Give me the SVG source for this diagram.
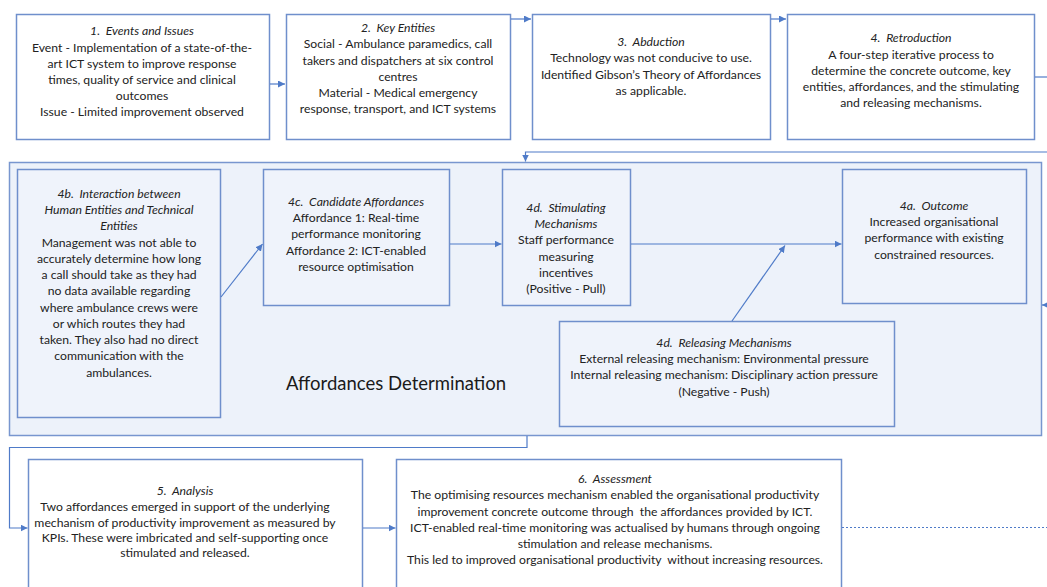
<svg xmlns="http://www.w3.org/2000/svg" width="1047" height="587" viewBox="0 0 1047 587">
<defs>
<style>
.bx{fill:#ffffff;stroke:#6f8fcc;stroke-width:1.5}
.ib{fill:#eff3fb;stroke:#6f8fcc;stroke-width:1.5}
.ct{fill:#edf2fa;stroke:#7896cf;stroke-width:1.5}
.t{font-family:Lato,"Liberation Sans",sans-serif;font-size:12.2px;fill:#222222;text-anchor:middle;white-space:pre}
.i{font-style:italic}
.big{font-family:Lato,"Liberation Sans",sans-serif;font-size:18.5px;fill:#1a1a1a}
.c{fill:none;stroke:#4f7bc8;stroke-width:1.2}
.d{fill:none;stroke:#4f7bc8;stroke-width:1.2;stroke-dasharray:2 2}
</style>
<marker id="ah" viewBox="0 0 10 10" refX="10" refY="5" markerWidth="7" markerHeight="7" markerUnits="userSpaceOnUse" orient="auto">
<path d="M0,0 L10,5 L0,10 z" fill="#4f7bc8"/>
</marker>
</defs>
<rect width="1047" height="587" fill="#ffffff"/>

<g id="container">
<rect class="ct" x="9.5" y="162.5" width="1032" height="273"/>
<text class="big" x="286" y="390">Affordances Determination</text>
</g>

<g id="n1">
<rect class="bx" x="16.5" y="14.5" width="253" height="125"/>
<text class="t i" x="142" y="35">1.  Events and Issues</text>
<text class="t" x="142" y="51.5">Event - Implementation of a state-of-the-</text>
<text class="t" x="142" y="68">art ICT system to improve response</text>
<text class="t" x="142" y="84">times, quality of service and clinical</text>
<text class="t" x="142" y="100">outcomes</text>
<text class="t" x="142" y="116">Issue - Limited improvement observed</text>
</g>

<g id="n2">
<rect class="bx" x="286.5" y="14.5" width="224" height="125"/>
<text class="t i" x="398" y="31.5">2.  Key Entities</text>
<text class="t" x="398" y="48">Social - Ambulance paramedics, call</text>
<text class="t" x="398" y="64.5">takers and dispatchers at six control</text>
<text class="t" x="398" y="80.5">centres</text>
<text class="t" x="398" y="97">Material - Medical emergency</text>
<text class="t" x="398" y="113">response, transport, and ICT systems</text>
</g>

<g id="n3">
<rect class="bx" x="532.5" y="14.5" width="238" height="125"/>
<text class="t i" x="651" y="46">3.  Abduction</text>
<text class="t" x="651" y="62">Technology was not conducive to use.</text>
<text class="t" x="651" y="78.5">Identified Gibson’s Theory of Affordances</text>
<text class="t" x="651" y="94.5">as applicable.</text>
</g>

<g id="n4">
<rect class="bx" x="787.5" y="14.5" width="247" height="125"/>
<text class="t i" x="911" y="42">4.  Retroduction</text>
<text class="t" x="911" y="58.5">A four-step iterative process to</text>
<text class="t" x="911" y="75">determine the concrete outcome, key</text>
<text class="t" x="911" y="91">entities, affordances, and the stimulating</text>
<text class="t" x="911" y="107">and releasing mechanisms.</text>
</g>

<g id="n4b">
<rect class="ib" x="17.5" y="169.5" width="203" height="248"/>
<text class="t i" x="119" y="197.5">4b.  Interaction between</text>
<text class="t i" x="119" y="214">Human Entities and Technical</text>
<text class="t i" x="119" y="230">Entities</text>
<text class="t" x="119" y="246.5">Management was not able to</text>
<text class="t" x="119" y="262.5">accurately determine how long</text>
<text class="t" x="119" y="279">a call should take as they had</text>
<text class="t" x="119" y="295">no data available regarding</text>
<text class="t" x="119" y="311.5">where ambulance crews were</text>
<text class="t" x="119" y="327.5">or which routes they had</text>
<text class="t" x="119" y="344">taken. They also had no direct</text>
<text class="t" x="119" y="360">communication with the</text>
<text class="t" x="119" y="376.5">ambulances.</text>
</g>

<g id="n4c">
<rect class="ib" x="263.5" y="169.5" width="186" height="136"/>
<text class="t i" x="356" y="205.5">4c.  Candidate Affordances</text>
<text class="t" x="356" y="222">Affordance 1: Real-time</text>
<text class="t" x="356" y="238">performance monitoring</text>
<text class="t" x="356" y="254.5">Affordance 2: ICT-enabled</text>
<text class="t" x="356" y="270.5">resource optimisation</text>
</g>

<g id="n4d-stim">
<rect class="ib" x="502.5" y="169.5" width="128" height="136"/>
<text class="t i" x="566" y="211.5">4d.  Stimulating</text>
<text class="t i" x="566" y="228">Mechanisms</text>
<text class="t" x="566" y="244">Staff performance</text>
<text class="t" x="566" y="261">measuring</text>
<text class="t" x="566" y="276.5">incentives</text>
<text class="t" x="566" y="293">(Positive - Pull)</text>
</g>

<g id="n4a">
<rect class="ib" x="842.5" y="169.5" width="184" height="134"/>
<text class="t i" x="934" y="209.5">4a.  Outcome</text>
<text class="t" x="934" y="226">Increased organisational</text>
<text class="t" x="934" y="242">performance with existing</text>
<text class="t" x="934" y="258.5">constrained resources.</text>
</g>

<g id="n4d-rel">
<rect class="ib" x="559.5" y="321.5" width="335" height="105"/>
<text class="t i" x="724" y="346.5">4d.  Releasing Mechanisms</text>
<text class="t" x="724" y="363">External releasing mechanism: Environmental pressure</text>
<text class="t" x="724" y="379">Internal releasing mechanism: Disciplinary action pressure</text>
<text class="t" x="724" y="395.5">(Negative - Push)</text>
</g>

<g id="n5">
<rect class="bx" x="28.5" y="459.5" width="334" height="135"/>
<text class="t i" x="185" y="494.5">5.  Analysis</text>
<text class="t" x="185" y="510.5">Two affordances emerged in support of the underlying</text>
<text class="t" x="185" y="526.5">mechanism of productivity improvement as measured by</text>
<text class="t" x="185" y="541.5">KPIs. These were imbricated and self-supporting once</text>
<text class="t" x="185" y="557">stimulated and released.</text>
</g>

<g id="n6">
<rect class="bx" x="396.5" y="459.5" width="445" height="135"/>
<text class="t i" x="615" y="482.5">6.  Assessment</text>
<text class="t" x="615" y="499">The optimising resources mechanism enabled the organisational productivity</text>
<text class="t" x="615" y="515.5">improvement concrete outcome through  the affordances provided by ICT.</text>
<text class="t" x="615" y="531.5">ICT-enabled real-time monitoring was actualised by humans through ongoing</text>
<text class="t" x="615" y="547.5">stimulation and release mechanisms.</text>
<text class="t" x="615" y="563.5">This led to improved organisational productivity  without increasing resources.</text>
</g>

<g id="connectors">
<path class="c" d="M270,84 H285" marker-end="url(#ah)"/>
<path class="c" d="M511,19 H531" marker-end="url(#ah)"/>
<path class="c" d="M771,19 H786" marker-end="url(#ah)"/>
<path class="c" d="M1035,77 H1047"/>
<path class="c" d="M1047,152 H525.5 V161.5" marker-end="url(#ah)"/>
<path class="c" d="M221,297 L262.5,244" marker-end="url(#ah)"/>
<path class="c" d="M450,244 H501.5" marker-end="url(#ah)"/>
<path class="c" d="M631,244 H841.5" marker-end="url(#ah)"/>
<path class="c" d="M732,321 L785,245.5" marker-end="url(#ah)"/>
<path class="c" d="M1049,305 H1042" marker-end="url(#ah)"/>
<path class="c" d="M527,436 V447.5 H9.5 V528 H27.5" marker-end="url(#ah)"/>
<path class="c" d="M363,528 H395.5" marker-end="url(#ah)"/>
<path class="d" d="M842,527.5 H1047"/>
</g>
</svg>
